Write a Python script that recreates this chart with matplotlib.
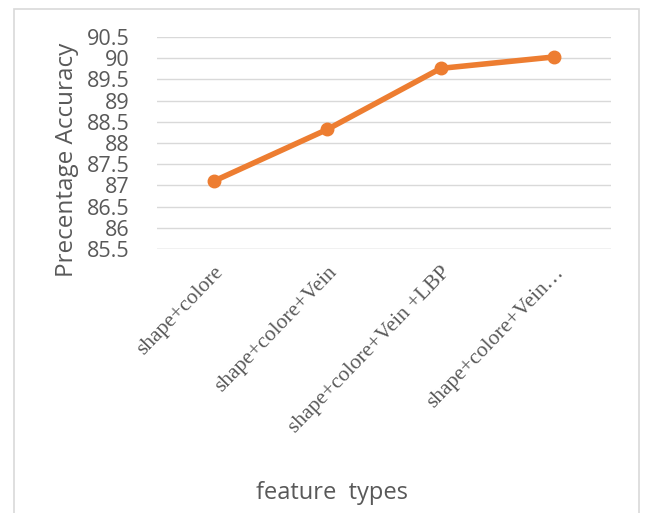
import matplotlib
matplotlib.use("Agg")
import matplotlib.pyplot as plt
from matplotlib.patches import Rectangle

categories = ["shape+colore", "shape+colore+Vein", "shape+colore+Vein +LBP", "shape+colore+Vein\u2026"]
accuracy = [87.1, 88.32, 89.76, 90.03]
yticks = [85.5, 86, 86.5, 87, 87.5, 88, 88.5, 89, 89.5, 90, 90.5]
ytick_labels = ["85.5", "86", "86.5", "87", "87.5", "88", "88.5", "89", "89.5", "90", "90.5"]

grey = "#595959"
orange = "#ED7D31"

fig = plt.figure(figsize=(6.47, 5.13), dpi=100)
fig.patch.set_facecolor("white")
fig.patches.append(Rectangle((14 / 647, -0.01), 625 / 647, 1 - 9 / 513 + 0.01,
                             transform=fig.transFigure, fill=False,
                             edgecolor="#D9D9D9", linewidth=1.2))

ax = fig.add_axes([157 / 647, 1 - 249 / 513, 454 / 647, 212 / 513])
x = list(range(len(categories)))
ax.plot(x, accuracy, color=orange, linewidth=4, marker="o", markersize=9,
        solid_capstyle="round", zorder=3)

ax.set_xlim(-0.5, len(categories) - 0.5)
ax.set_ylim(85.5, 90.5)
ax.set_yticks(yticks)
ax.set_yticklabels(ytick_labels, fontsize=15.5, color=grey, family="Open Sans")
ax.yaxis.grid(True, color="#D9D9D9", linewidth=1)
ax.set_axisbelow(True)
ax.tick_params(axis="y", length=0, pad=20)
ax.tick_params(axis="x", length=0, pad=10)

ax.set_xticks(x)
ax.set_xticklabels(categories, rotation=46, ha="right", va="top",
                   rotation_mode="anchor", fontsize=15.5, color=grey,
                   family="Liberation Serif")

for s in ax.spines.values():
    s.set_visible(False)
ax.axhline(85.5, color="#D9D9D9", linewidth=1)

fig.text(67 / 647, 1 - 160 / 513, "Precentage Accuracy", rotation=90,
         ha="center", va="center", fontsize=17.5, color=grey, family="Open Sans")
fig.text(332 / 647, 1 - 493 / 513, "feature  types", ha="center", va="center",
         fontsize=17, color=grey, family="Open Sans")

fig.savefig("out.png", dpi=100, facecolor="white")
